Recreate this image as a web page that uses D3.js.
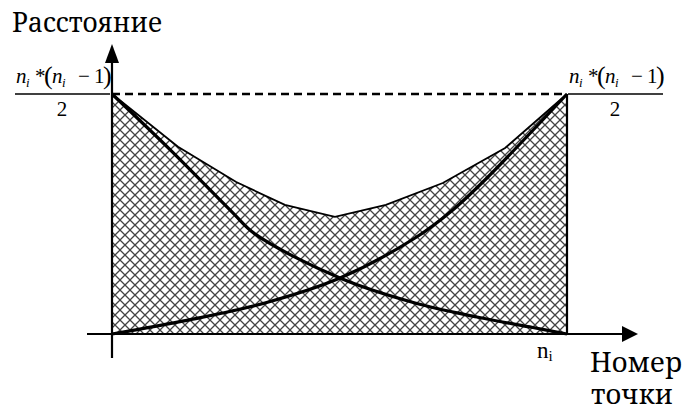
<!DOCTYPE html>
<html lang="ru"><head><meta charset="utf-8">
<script src="https://cdn.jsdelivr.net/npm/d3@7"></script>
<style>body{margin:0;background:#fff}</style>
</head><body>
<svg id="c" width="683" height="410"></svg>
<script>
// Normalised point position (0 = first point, 1 = n_i) and distance (1 = n_i*(n_i-1)/2)
const envelopeX   = [0, 0.145, 0.273, 0.380, 0.490, 0.602, 0.727, 0.864, 1];
const envelopeY   = [1, 0.780, 0.633, 0.538, 0.488, 0.538, 0.629, 0.775, 1];
const decreasingX = [0, 0.132, 0.264, 0.314, 0.501, 0.666, 0.802, 0.925, 1];
const decreasingY = [1, 0.760, 0.508, 0.417, 0.233, 0.129, 0.071, 0.027, 0];
const increasingX = [0, 0.167, 0.336, 0.501, 0.666, 0.749, 0.824, 1];
const increasingY = [0, 0.058, 0.129, 0.233, 0.400, 0.517, 0.650, 1];
const yTitle = "Расстояние";
const xTitle = ["Номер", "точки"];
const xEndLabel = ["n", "i"];
const fracDenominator = "2";

const FONT = "Liberation Serif, Tinos, Times New Roman, serif";
const CYR_FONT = "Noto Serif, DejaVu Serif, Liberation Serif, serif";
const svg = d3.select("#c");
const x = d3.scaleLinear([0, 1], [112, 567]);
const y = d3.scaleLinear([0, 1], [334, 94]);

const defs = svg.append("defs");
const pat = defs.append("pattern").attr("id", "hatch")
  .attr("patternUnits", "userSpaceOnUse").attr("width", 10).attr("height", 10);
pat.append("rect").attr("width", 10).attr("height", 10).attr("fill", "#fff");
pat.append("path").attr("d", "M-1,-1L11,11M-1,11L11,-1")
  .attr("stroke", "#444").attr("stroke-width", 1.3).attr("fill", "none");

const env = envelopeX.map((v, i) => ({x: v, y: envelopeY[i]}));
const dec = decreasingX.map((v, i) => ({x: v, y: decreasingY[i]}));
const inc = increasingX.map((v, i) => ({x: v, y: increasingY[i]}));

svg.append("path").datum(env)
  .attr("d", d3.area().x(d => x(d.x)).y0(y(0)).y1(d => y(d.y)))
  .attr("fill", "url(#hatch)");
svg.append("path").datum(env)
  .attr("d", d3.line().x(d => x(d.x)).y(d => y(d.y)))
  .attr("fill", "none").attr("stroke", "#000").attr("stroke-width", 1.8);

const curve = d3.line().x(d => x(d.x)).y(d => y(d.y)).curve(d3.curveCatmullRom.alpha(0.5));
svg.append("path").datum(dec).attr("d", curve)
  .attr("fill", "none").attr("stroke", "#000").attr("stroke-width", 3.2);
svg.append("path").datum(inc).attr("d", curve)
  .attr("fill", "none").attr("stroke", "#000").attr("stroke-width", 3.2);

svg.append("line").attr("x1", x(0)).attr("x2", x(1)).attr("y1", y(1)).attr("y2", y(1))
  .attr("stroke", "#000").attr("stroke-width", 2.5).attr("stroke-dasharray", "8,5");
svg.append("line").attr("x1", x(1)).attr("x2", x(1)).attr("y1", y(1)).attr("y2", y(0))
  .attr("stroke", "#000").attr("stroke-width", 2.2);

svg.append("line").attr("x1", x(0)).attr("x2", x(0)).attr("y1", 60).attr("y2", 358)
  .attr("stroke", "#000").attr("stroke-width", 2.2);
svg.append("path").attr("d", `M${x(0)},44L${x(0)-7},63L${x(0)+7},63Z`).attr("fill", "#000");
svg.append("line").attr("x1", 87).attr("x2", 626).attr("y1", y(0)).attr("y2", y(0))
  .attr("stroke", "#000").attr("stroke-width", 2.2);
svg.append("path").attr("d", `M638,${y(0)}L622,${y(0)-8}L622,${y(0)+8}Z`).attr("fill", "#000");

function txt(parent, xx, yy, fs, s, fam) {
  return parent.append("text").attr("x", xx).attr("y", yy).attr("font-size", fs)
    .style("font-family", fam || FONT).text(s);
}
txt(svg, 12, 32, 28, yTitle, CYR_FONT).attr("textLength", 150).attr("lengthAdjust", "spacingAndGlyphs");
txt(svg, 590, 372, 28, xTitle[0], CYR_FONT).attr("textLength", 92).attr("lengthAdjust", "spacingAndGlyphs");
txt(svg, 591, 404, 28, xTitle[1], CYR_FONT).attr("textLength", 82).attr("lengthAdjust", "spacingAndGlyphs");
const nl = svg.append("text").attr("x", 537).attr("y", 358).attr("font-size", 23).style("font-family", FONT);
nl.append("tspan").text(xEndLabel[0]);
nl.append("tspan").attr("font-size", 15).attr("dy", 3).text(xEndLabel[1]);

function fraction(x0, yBar) {
  const g = svg.append("g").attr("transform", `translate(${x0},${yBar})`);
  const base = -11;
  const pieces = [
    {t: "n", dx: 1, fs: 21, it: true, dy: 0},
    {t: "i", dx: 11, fs: 13, it: true, dy: 4},
    {t: "*", dx: 20, fs: 21, it: false, dy: 0},
    {t: "(", dx: 29, fs: 26, it: false, dy: 1},
    {t: "n", dx: 37, fs: 21, it: true, dy: 0},
    {t: "i", dx: 47, fs: 13, it: true, dy: 4},
    {t: "\u2212", dx: 63, fs: 21, it: false, dy: 0},
    {t: "1", dx: 79, fs: 21, it: false, dy: 0},
    {t: ")", dx: 88, fs: 26, it: false, dy: 1}
  ];
  pieces.forEach(p => {
    txt(g, p.dx, base + p.dy, p.fs, p.t).attr("font-style", p.it ? "italic" : "normal");
  });
  g.append("line").attr("x1", 0).attr("x2", 95).attr("y1", 0).attr("y2", 0)
    .attr("stroke", "#000").attr("stroke-width", 1.3);
  txt(g, 47, 22, 21, fracDenominator).attr("text-anchor", "middle");
}
fraction(15, 94);
fraction(568, 94);
</script>
</body></html>
